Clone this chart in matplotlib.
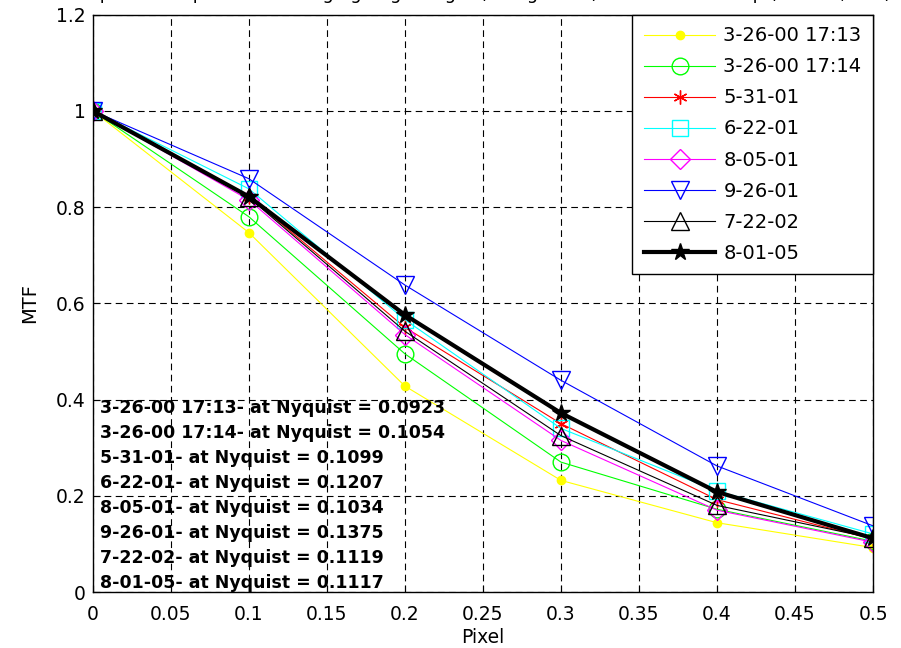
import matplotlib.pyplot as plt
import numpy as np

pixel = [0, 0.1, 0.2, 0.3, 0.4, 0.5]

labels = ['3-26-00 17:13', '3-26-00 17:14', '5-31-01', '6-22-01',
          '8-05-01', '9-26-01', '7-22-02', '8-01-05']

mtf_032600a = [1.0, 0.747, 0.428, 0.232, 0.144, 0.0923]
mtf_032600b = [1.0, 0.780, 0.495, 0.270, 0.172, 0.1054]
mtf_053101 = [1.0, 0.822, 0.550, 0.350, 0.192, 0.1099]
mtf_062201 = [1.0, 0.838, 0.566, 0.340, 0.210, 0.1207]
mtf_080501 = [1.0, 0.815, 0.535, 0.315, 0.170, 0.1034]
mtf_092601 = [1.0, 0.859, 0.638, 0.440, 0.262, 0.1375]
mtf_072202 = [1.0, 0.820, 0.542, 0.325, 0.180, 0.1119]
mtf_080105 = [1.0, 0.822, 0.576, 0.372, 0.208, 0.1117]

nyquist = [0.0923, 0.1054, 0.1099, 0.1207, 0.1034, 0.1375, 0.1119, 0.1117]

series = [mtf_032600a, mtf_032600b, mtf_053101, mtf_062201,
          mtf_080501, mtf_092601, mtf_072202, mtf_080105]

asterisk = (6, 2, 0)
styles = [
    dict(color=(1, 1, 0), marker='o', ms=6, mfc=(1, 1, 0), mec=(1, 1, 0), lw=0.8),
    dict(color=(0, 1, 0), marker='o', ms=12, mfc='none', lw=0.8),
    dict(color=(1, 0, 0), marker=asterisk, ms=10, lw=0.8),
    dict(color=(0, 1, 1), marker='s', ms=11, mfc='none', lw=0.8),
    dict(color=(1, 0, 1), marker='D', ms=10, mfc='none', lw=0.8),
    dict(color=(0, 0, 1), marker='v', ms=13, mfc='none', lw=0.8),
    dict(color='k', marker='^', ms=13, mfc='none', lw=0.8),
    dict(color='k', marker='*', ms=13, mfc='k', lw=3.0),
]

plt.rcParams['font.family'] = ['DejaVu Sans']

fig = plt.figure(figsize=(9.01, 6.48), dpi=100)
ax = fig.add_axes([0.103, 0.0864, 0.866, 0.891])

for y, lab, st in zip(series, labels, styles):
    ax.plot(pixel, y, label=lab, **st)

ax.set_xlim(0, 0.5)
ax.set_ylim(0, 1.2)
ax.set_xticks(np.arange(0, 0.51, 0.05))
ax.set_xticklabels(['0', '0.05', '0.1', '0.15', '0.2', '0.25', '0.3',
                    '0.35', '0.4', '0.45', '0.5'])
ax.set_yticks(np.arange(0, 1.21, 0.2))
ax.set_yticklabels(['0', '0.2', '0.4', '0.6', '0.8', '1', '1.2'])
ax.tick_params(direction='in', labelsize=13.5, length=5)
ax.tick_params(axis='x', pad=9)
ax.tick_params(axis='y', pad=5)
ax.grid(True, color='k', linestyle=(0, (6, 4)), linewidth=0.8)
ax.set_axisbelow(True)
for s in ax.spines.values():
    s.set_linewidth(1.0)

ax.set_xlabel('Pixel', fontsize=13.5, labelpad=3)
ax.set_ylabel('MTF', fontsize=14, labelpad=12)

leg = ax.legend(loc='upper right', fontsize=14, fancybox=False,
                framealpha=1, edgecolor='k', borderaxespad=0,
                handlelength=3.7, handletextpad=0.4, labelspacing=0.62,
                borderpad=0.6)
leg.get_frame().set_linewidth(1.0)

for i, (lab, nq) in enumerate(zip(labels, nyquist)):
    ax.text(0.0095, 0.319 - i * 0.0433,
            f'{lab}- at Nyquist = {nq:.4f}',
            transform=ax.transAxes, fontsize=12.5, fontweight='bold',
            va='center', ha='left')

fig.text(0.53, 1 + 1 / 648,
         'Temporal Comparison of Imaging Edge Target (Along Track) for Landsat Comp (Band 1, Pan)',
         ha='center', va='baseline', fontsize=13)

fig.savefig('out.png', dpi=100)
